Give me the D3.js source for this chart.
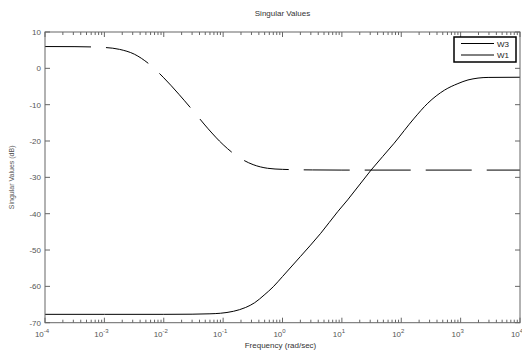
<!DOCTYPE html>
<html><head><meta charset="utf-8">
<script src="https://cdn.jsdelivr.net/npm/d3@7"></script>
<style>
html,body{margin:0;padding:0;background:#fff;}
text{font-family:"Liberation Sans",Arial,sans-serif;}
</style></head>
<body>
<script>
// ---- data ----
const titleText = "Singular Values";
const xLabelText = "Frequency (rad/sec)";
const yLabelText = "Singular Values (dB)";
const xTickExps = [-4, -3, -2, -1, 0, 1, 2, 3, 4];
const yTicks = [10, 0, -10, -20, -30, -40, -50, -60, -70];
const legendNames = ["W3", "W1"];

const w1Freq = [1e-4, 3.2e-4, 1e-3, 1.8e-3, 3.2e-3, 5.6e-3, 1e-2, 1.8e-2, 3.2e-2, 5.6e-2, 0.1, 0.18, 0.32, 0.56, 1, 3.2, 10, 1e4];
const w1Db   = [6.0, 5.97, 5.74, 5.22, 3.89, 1.26, -2.6, -7.14, -11.9, -16.65, -21.0, -24.4, -26.5, -27.5, -27.8, -27.96, -28.0, -28.0];

const w3Freq = [1e-4, 1e-3, 1e-2, 3e-2, 6e-2, 0.09, 0.15, 0.24, 0.34, 0.49, 0.7, 1.0, 2.0, 4.4, 8.5, 12.5, 31, 76, 166, 280, 535, 900, 1330, 2900, 1e4];
const w3Db   = [-67.7, -67.7, -67.7, -67.66, -67.55, -67.4, -66.85, -65.8, -64.5, -62.4, -60.1, -57.3, -51.8, -45.4, -39.45, -36.2, -28.0, -20.6, -13.7, -9.6, -6.0, -4.2, -3.2, -2.5, -2.45];

// ---- layout ----
const W = 522, H = 353;
const L = 45, R = 520, T = 32, B = 322.7;
const axisCol = "#666", textCol = "#555";

const svg = d3.select("body").append("svg").attr("width", W).attr("height", H);
const x = d3.scaleLog().domain([1e-4, 1e4]).range([L, R]);
const y = d3.scaleLinear().domain([-70, 10]).range([B, T]);

// curves
const line = d3.line().x(d => x(d[0])).y(d => y(d[1])).curve(d3.curveMonotoneX);
const w1 = w1Freq.map((f, i) => [f, w1Db[i]]);
const w3 = w3Freq.map((f, i) => [f, w3Db[i]]);

svg.append("path").attr("d", line(w3)).attr("fill", "none").attr("stroke", "#000").attr("stroke-width", 1);
svg.append("path").attr("d", line(w1)).attr("fill", "none").attr("stroke", "#000").attr("stroke-width", 1)
  .attr("stroke-dasharray", "46,15");

// box
const g = svg.append("g").attr("stroke", axisCol).attr("stroke-width", 1).attr("fill", "none");
g.append("rect").attr("x", L).attr("y", T).attr("width", R - L).attr("height", B - T);

// x ticks
xTickExps.forEach(k => {
  const px = x(Math.pow(10, k));
  g.append("line").attr("x1", px).attr("x2", px).attr("y1", B).attr("y2", B - 5);
  g.append("line").attr("x1", px).attr("x2", px).attr("y1", T).attr("y2", T + 5);
  if (k < 4) {
    for (let m = 2; m <= 9; m++) {
      const mx = x(m * Math.pow(10, k));
      g.append("line").attr("x1", mx).attr("x2", mx).attr("y1", B).attr("y2", B - 3);
      g.append("line").attr("x1", mx).attr("x2", mx).attr("y1", T).attr("y2", T + 3);
    }
  }
  const t = svg.append("text").attr("x", px - 3).attr("y", 337).attr("text-anchor", "middle")
    .attr("font-size", 8).attr("fill", textCol);
  t.append("tspan").text("10");
  t.append("tspan").attr("dy", -4).attr("font-size", 6).text(k);
});

// y ticks
yTicks.forEach(v => {
  const py = y(v);
  g.append("line").attr("x1", L).attr("x2", L + 5).attr("y1", py).attr("y2", py);
  g.append("line").attr("x1", R).attr("x2", R - 5).attr("y1", py).attr("y2", py);
  svg.append("text").attr("x", 41).attr("y", py + 3).attr("text-anchor", "end")
    .attr("font-size", 8).attr("fill", textCol).text(v);
});

// labels
svg.append("text").attr("x", (L + R) / 2).attr("y", 16).attr("text-anchor", "middle")
  .attr("font-size", 8).attr("fill", "#333").text(titleText);
svg.append("text").attr("x", (L + R) / 2 - 2).attr("y", 348).attr("text-anchor", "middle")
  .attr("font-size", 8).attr("fill", "#333").text(xLabelText);
svg.append("text").attr("transform", `translate(14,${(T + B) / 2}) rotate(-90)`).attr("text-anchor", "middle")
  .attr("font-size", 7).attr("fill", textCol).text(yLabelText);

// legend
const lg = svg.append("g");
lg.append("rect").attr("x", 454).attr("y", 37).attr("width", 62).attr("height", 25)
  .attr("fill", "#fff").attr("stroke", "#000").attr("stroke-width", 1.5);
legendNames.forEach((n, i) => {
  const ly = 43.5 + i * 11.5;
  lg.append("line").attr("x1", 461).attr("x2", 494).attr("y1", ly).attr("y2", ly)
    .attr("stroke", "#000").attr("stroke-width", 1);
  lg.append("text").attr("x", 497).attr("y", ly + 3).attr("font-size", 8).attr("fill", "#222").text(n);
});
</script>
</body></html>
